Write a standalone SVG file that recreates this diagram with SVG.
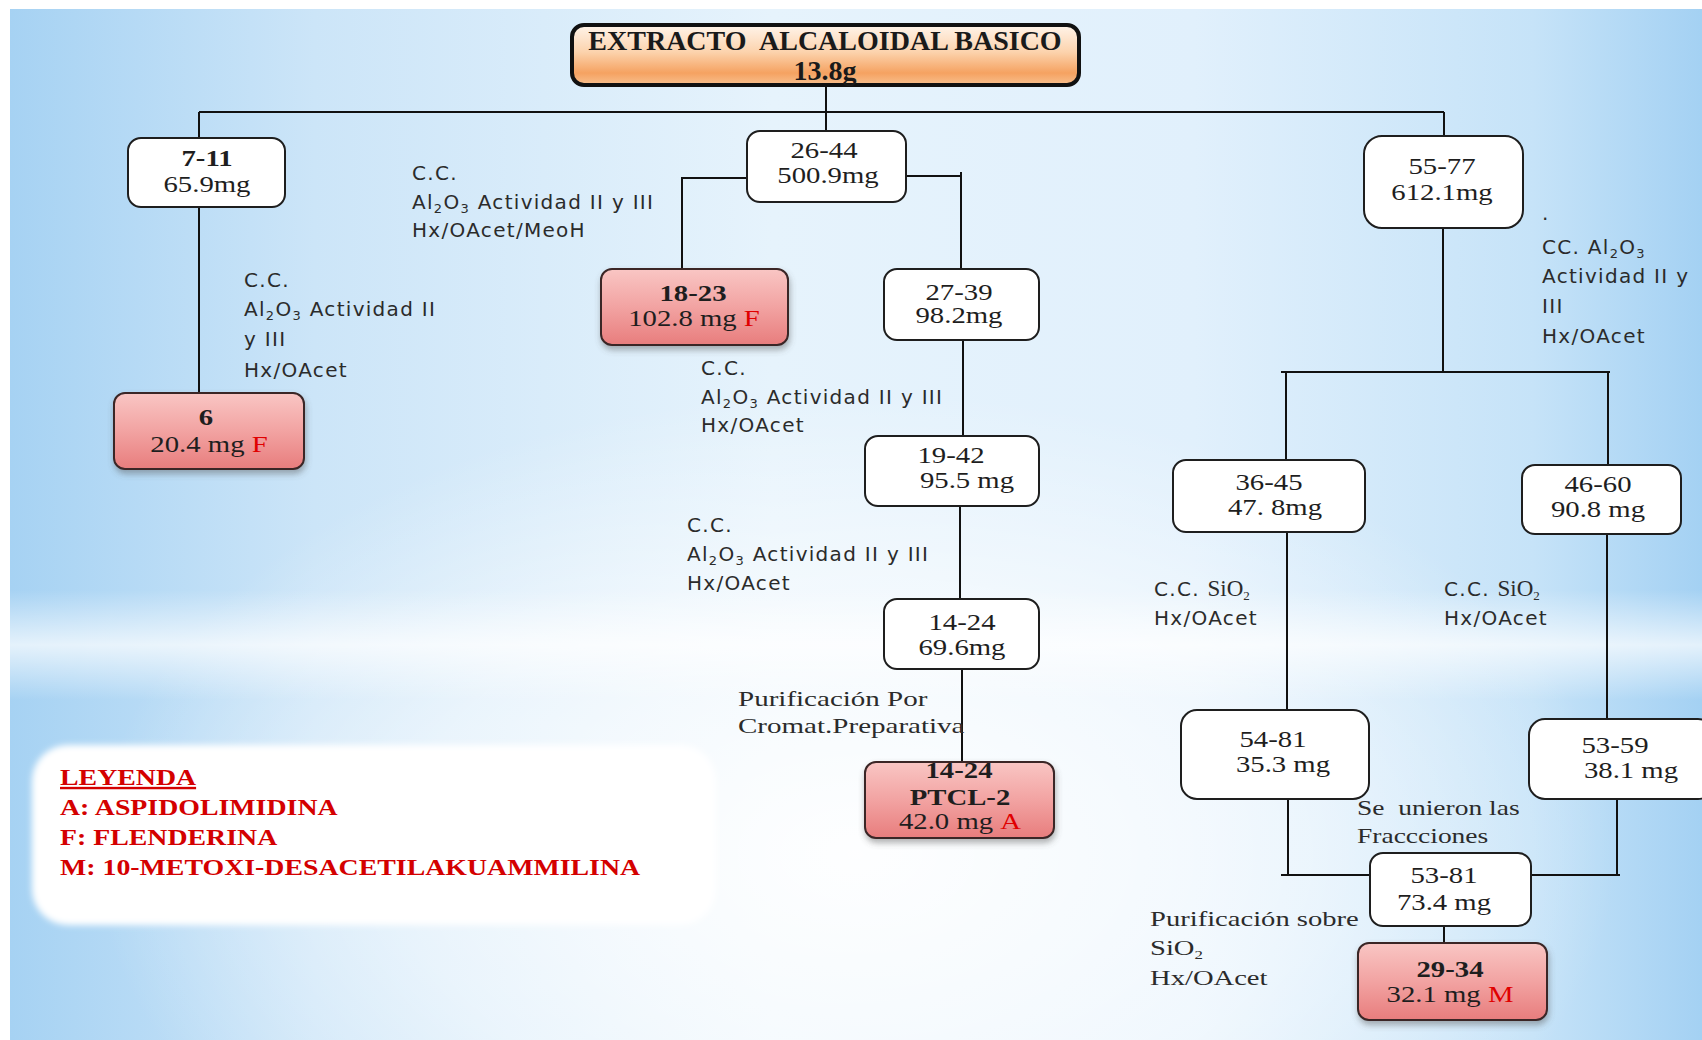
<svg xmlns="http://www.w3.org/2000/svg" width="1702" height="1040" viewBox="0 0 1702 1040">
<style>
.box{fill:#fff;stroke:#1e1e1e;stroke-width:2}
.pink{fill:url(#gPink);stroke:#3a2626;stroke-width:2;filter:url(#sh)}
.conn{fill:none;stroke:#111;stroke-width:2}
.n{font-family:"Liberation Serif","Times New Roman",serif;font-size:23px;fill:#1e1e1e;text-anchor:middle}
.b{font-weight:bold}
.red{fill:#e00000}
.lab{font-family:"DejaVu Sans","Liberation Sans",sans-serif;font-size:20px;fill:#2b2b2b;letter-spacing:1.3px}
.ser{font-family:"Liberation Serif","Times New Roman",serif;font-size:22px;fill:#2b2b2b}
.sub{font-size:13px}
.leg{font-family:"Liberation Serif","Times New Roman",serif;font-size:24px;font-weight:bold;fill:#d40000}
.title{font-family:"Liberation Serif","Times New Roman",serif;font-size:28px;font-weight:bold;fill:#1a1a1a;text-anchor:middle;white-space:pre}
</style>
<defs>
<linearGradient id="bgH" x1="0" y1="0" x2="1" y2="0">
<stop offset="0" stop-color="#a6d2f3"/>
<stop offset="0.18" stop-color="#cce5f8"/>
<stop offset="0.45" stop-color="#e6f3fc"/>
<stop offset="0.7" stop-color="#e1f0fc"/>
<stop offset="0.9" stop-color="#c6e3f8"/>
<stop offset="1" stop-color="#a4d1f3"/>
</linearGradient>
<radialGradient id="bgW" cx="0.5" cy="0.82" r="0.45">
<stop offset="0" stop-color="#ffffff" stop-opacity="0.95"/>
<stop offset="0.6" stop-color="#ffffff" stop-opacity="0.5"/>
<stop offset="1" stop-color="#ffffff" stop-opacity="0"/>
</radialGradient>
<linearGradient id="band" x1="0" y1="0" x2="0" y2="1">
<stop offset="0" stop-color="#ffffff" stop-opacity="0"/>
<stop offset="0.5" stop-color="#ffffff" stop-opacity="0.7"/>
<stop offset="1" stop-color="#ffffff" stop-opacity="0"/>
</linearGradient>
<linearGradient id="gTitle" x1="0" y1="0" x2="0" y2="1">
<stop offset="0" stop-color="#fff4ea"/>
<stop offset="0.45" stop-color="#fcd3ad"/>
<stop offset="0.8" stop-color="#f5a261"/>
<stop offset="1" stop-color="#f8c08e"/>
</linearGradient>
<linearGradient id="gPink" x1="0" y1="0" x2="0" y2="1">
<stop offset="0" stop-color="#f9c6c4"/>
<stop offset="0.5" stop-color="#f2a3a2"/>
<stop offset="1" stop-color="#e87d7d"/>
</linearGradient>
<filter id="sh" x="-10%" y="-10%" width="125%" height="135%">
<feDropShadow dx="1" dy="4" stdDeviation="3" flood-color="#555" flood-opacity="0.45"/>
</filter>
<filter id="soft" x="-5%" y="-10%" width="110%" height="120%">
<feGaussianBlur stdDeviation="3"/>
</filter>
</defs>

<g id="background">
<rect x="0" y="0" width="1702" height="1040" fill="#ffffff"/>
<rect x="10" y="9" width="1692" height="1031" fill="url(#bgH)"/>
<rect x="10" y="9" width="1692" height="1031" fill="url(#bgW)"/>
<rect x="10" y="590" width="1692" height="110" fill="url(#band)"/>
</g>

<g id="connectors">
<path class="conn" d="M826 85V131"/>
<path class="conn" d="M199 112H1444"/>
<path class="conn" d="M199 112V138"/>
<path class="conn" d="M1444 112V136"/>
<path class="conn" d="M199 207V393"/>
<path class="conn" d="M747 178H682V269"/>
<path class="conn" d="M906 176H961V269M961 172V176"/>
<path class="conn" d="M963 340V436"/>
<path class="conn" d="M960 506V599"/>
<path class="conn" d="M962 669V762"/>
<path class="conn" d="M1443 228V372"/>
<path class="conn" d="M1281 372H1610M1286 372V460M1608 372V465"/>
<path class="conn" d="M1287 532V710"/>
<path class="conn" d="M1607 534V719"/>
<path class="conn" d="M1288 799V875M1281 875H1371"/>
<path class="conn" d="M1617 799V875M1531 875H1620"/>
<path class="conn" d="M1444 926V943"/>
</g>

<g id="title">
<rect x="572" y="25" width="507" height="60" rx="12" fill="url(#gTitle)" stroke="#111" stroke-width="4"/>
<text class="title" x="825" y="50">EXTRACTO  ALCALOIDAL BASICO</text>
<text class="title" x="825" y="80">13.8g</text>
</g>

<g id="n7-11">
<rect class="box" x="128" y="138" width="157" height="69" rx="13"/>
<text class="n b" transform="translate(207 166) scale(1.25 1)">7-11</text>
<text class="n" transform="translate(207 192) scale(1.25 1)">65.9mg</text>
</g>

<g id="n6">
<rect class="pink" x="114" y="393" width="190" height="76" rx="11"/>
<text class="n b" transform="translate(206 425) scale(1.25 1)">6</text>
<text class="n" transform="translate(209 452) scale(1.25 1)">20.4 mg <tspan class="red">F</tspan></text>
</g>

<g id="n26-44">
<rect class="box" x="747" y="131" width="159" height="71" rx="13"/>
<text class="n" transform="translate(824 158) scale(1.25 1)">26-44</text>
<text class="n" transform="translate(828 183) scale(1.25 1)">500.9mg</text>
</g>

<g id="n18-23">
<rect class="pink" x="601" y="269" width="187" height="76" rx="11"/>
<text class="n b" transform="translate(693 301) scale(1.25 1)">18-23</text>
<text class="n" transform="translate(694 326) scale(1.25 1)">102.8 mg <tspan class="red">F</tspan></text>
</g>

<g id="n27-39">
<rect class="box" x="884" y="269" width="155" height="71" rx="13"/>
<text class="n" transform="translate(959 300) scale(1.25 1)">27-39</text>
<text class="n" transform="translate(959 323) scale(1.25 1)">98.2mg</text>
</g>

<g id="n19-42">
<rect class="box" x="865" y="436" width="174" height="70" rx="13"/>
<text class="n" transform="translate(951 463) scale(1.25 1)">19-42</text>
<text class="n" transform="translate(967 488) scale(1.25 1)">95.5 mg</text>
</g>

<g id="n14-24">
<rect class="box" x="884" y="599" width="155" height="70" rx="13"/>
<text class="n" transform="translate(962 630) scale(1.25 1)">14-24</text>
<text class="n" transform="translate(962 655) scale(1.25 1)">69.6mg</text>
</g>

<g id="nPTCL-2">
<rect class="pink" x="865" y="762" width="189" height="76" rx="11"/>
<text class="n b" transform="translate(959 778) scale(1.25 1)">14-24</text>
<text class="n b" transform="translate(960 805) scale(1.25 1)">PTCL-2</text>
<text class="n" transform="translate(960 829) scale(1.25 1)">42.0 mg <tspan class="red">A</tspan></text>
</g>

<g id="n55-77">
<rect class="box" x="1364" y="136" width="159" height="92" rx="18"/>
<text class="n" transform="translate(1442 174) scale(1.25 1)">55-77</text>
<text class="n" transform="translate(1442 200) scale(1.25 1)">612.1mg</text>
</g>

<g id="n36-45">
<rect class="box" x="1173" y="460" width="192" height="72" rx="13"/>
<text class="n" transform="translate(1269 490) scale(1.25 1)">36-45</text>
<text class="n" transform="translate(1275 515) scale(1.25 1)">47. 8mg</text>
</g>

<g id="n46-60">
<rect class="box" x="1522" y="465" width="159" height="69" rx="13"/>
<text class="n" transform="translate(1598 492) scale(1.25 1)">46-60</text>
<text class="n" transform="translate(1598 517) scale(1.25 1)">90.8 mg</text>
</g>

<g id="n54-81">
<rect class="box" x="1181" y="710" width="188" height="89" rx="16"/>
<text class="n" transform="translate(1273 747) scale(1.25 1)">54-81</text>
<text class="n" transform="translate(1283 772) scale(1.25 1)">35.3 mg</text>
</g>

<g id="n53-59">
<rect class="box" x="1529" y="719" width="185" height="80" rx="16"/>
<text class="n" transform="translate(1615 753) scale(1.25 1)">53-59</text>
<text class="n" transform="translate(1631 778) scale(1.25 1)">38.1 mg</text>
</g>

<g id="n53-81">
<rect class="box" x="1370" y="853" width="161" height="73" rx="13"/>
<text class="n" transform="translate(1444 883) scale(1.25 1)">53-81</text>
<text class="n" transform="translate(1444 910) scale(1.25 1)">73.4 mg</text>
</g>

<g id="n29-34">
<rect class="pink" x="1358" y="943" width="189" height="77" rx="11"/>
<text class="n b" transform="translate(1450 977) scale(1.25 1)">29-34</text>
<text class="n" transform="translate(1450 1002) scale(1.25 1)">32.1 mg <tspan class="red">M</tspan></text>
</g>

<g id="labels">
<text class="lab" x="412" y="180">C.C.</text>
<text class="lab" x="412" y="209">Al<tspan class="sub" dy="4">2</tspan><tspan dy="-4">O</tspan><tspan class="sub" dy="4">3</tspan><tspan dy="-4"> Actividad II y III</tspan></text>
<text class="lab" x="412" y="237">Hx/OAcet/MeoH</text>

<text class="lab" x="244" y="287">C.C.</text>
<text class="lab" x="244" y="316">Al<tspan class="sub" dy="4">2</tspan><tspan dy="-4">O</tspan><tspan class="sub" dy="4">3</tspan><tspan dy="-4"> Actividad II</tspan></text>
<text class="lab" x="244" y="346">y III</text>
<text class="lab" x="244" y="377">Hx/OAcet</text>

<text class="lab" x="701" y="375">C.C.</text>
<text class="lab" x="701" y="404">Al<tspan class="sub" dy="4">2</tspan><tspan dy="-4">O</tspan><tspan class="sub" dy="4">3</tspan><tspan dy="-4"> Actividad II y III</tspan></text>
<text class="lab" x="701" y="432">Hx/OAcet</text>

<text class="lab" x="687" y="532">C.C.</text>
<text class="lab" x="687" y="561">Al<tspan class="sub" dy="4">2</tspan><tspan dy="-4">O</tspan><tspan class="sub" dy="4">3</tspan><tspan dy="-4"> Actividad II y III</tspan></text>
<text class="lab" x="687" y="590">Hx/OAcet</text>

<text class="ser" transform="translate(738 706) scale(1.32 1)">Purificación Por</text>
<text class="ser" transform="translate(738 733) scale(1.32 1)">Cromat.Preparativa</text>

<text class="lab" x="1542" y="220">.</text>
<text class="lab" x="1542" y="254">CC. Al<tspan class="sub" dy="4">2</tspan><tspan dy="-4">O</tspan><tspan class="sub" dy="4">3</tspan></text>
<text class="lab" x="1542" y="283">Actividad II y</text>
<text class="lab" x="1542" y="313">III</text>
<text class="lab" x="1542" y="343">Hx/OAcet</text>

<text class="lab" x="1154" y="596">C.C. <tspan class="ser" style="letter-spacing:0;font-size:23px">SiO<tspan class="sub" dy="4">2</tspan></tspan></text>
<text class="lab" x="1154" y="625">Hx/OAcet</text>

<text class="lab" x="1444" y="596">C.C. <tspan class="ser" style="letter-spacing:0;font-size:23px">SiO<tspan class="sub" dy="4">2</tspan></tspan></text>
<text class="lab" x="1444" y="625">Hx/OAcet</text>

<text class="ser" transform="translate(1357 815) scale(1.25 1)" style="white-space:pre">Se  unieron las</text>
<text class="ser" transform="translate(1357 843) scale(1.25 1)">Fraccciones</text>

<text class="ser" transform="translate(1150 926) scale(1.3 1)">Purificación sobre</text>
<text class="ser" transform="translate(1150 955) scale(1.3 1)">SiO<tspan class="sub" dy="4">2</tspan></text>
<text class="ser" transform="translate(1150 985) scale(1.3 1)">Hx/OAcet</text>
</g>

<g id="legend">
<rect x="32" y="745" width="684" height="180" rx="36" fill="#ffffff" filter="url(#soft)"/>
<text class="leg" transform="translate(60 785) scale(1.16 1)" text-decoration="underline">LEYENDA</text>
<text class="leg" transform="translate(60 815) scale(1.16 1)">A: ASPIDOLIMIDINA</text>
<text class="leg" transform="translate(60 845) scale(1.16 1)">F: FLENDERINA</text>
<text class="leg" transform="translate(60 875) scale(1.16 1)">M: 10-METOXI-DESACETILAKUAMMILINA</text>
</g>
</svg>
